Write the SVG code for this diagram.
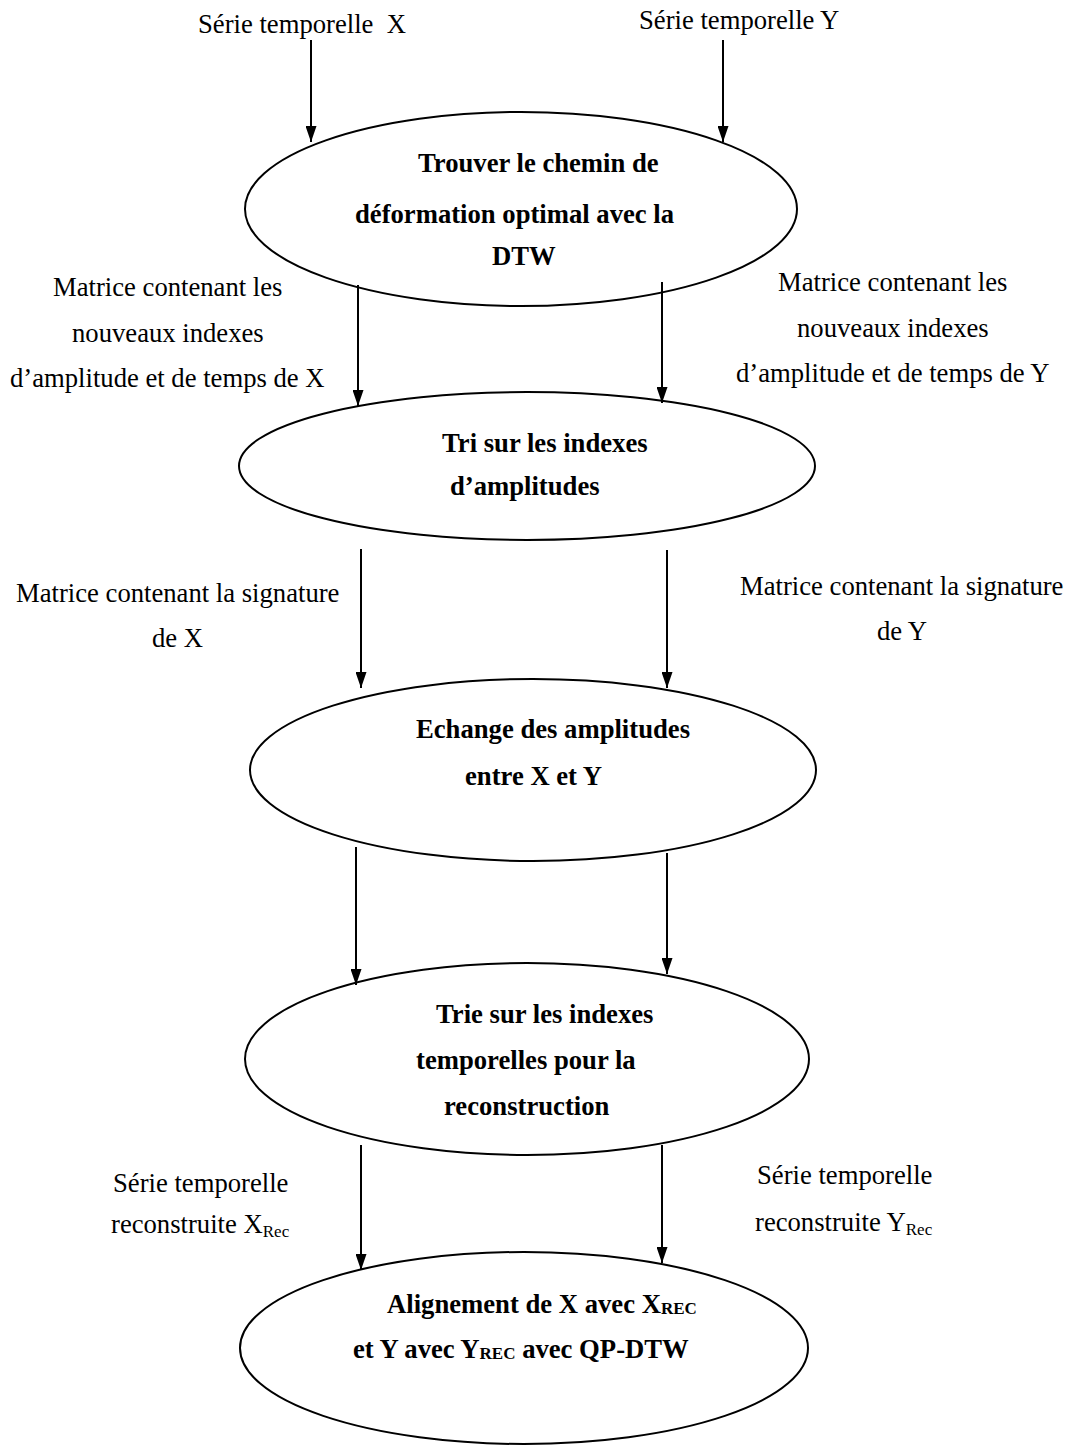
<svg xmlns="http://www.w3.org/2000/svg" width="1069" height="1445" viewBox="0 0 1069 1445">
<style>
.n{fill:#fff;stroke:#000;stroke-width:2}
.l{font-family:"Liberation Serif","Times New Roman",serif;font-size:26.67px;fill:#000}
.b{font-family:"Liberation Serif","Times New Roman",serif;font-size:26.67px;font-weight:bold;fill:#000}
.c line{stroke:#000;stroke-width:2}
</style>
<defs>
<marker id="ah" markerWidth="16" markerHeight="11" refX="16" refY="5.5" orient="auto" markerUnits="userSpaceOnUse" viewBox="0 0 16 11">
<path d="M0,0 L16,5.5 L0,11 Z" fill="#000"/>
</marker>
</defs>
<rect width="1069" height="1445" fill="#fff"/>
<g id="n1"><ellipse class="n" cx="521" cy="209" rx="276" ry="97"/>
<text class="b" x="418" y="172">Trouver le chemin de</text>
<text class="b" x="355" y="223">déformation optimal avec la</text>
<text class="b" x="492" y="265">DTW</text></g>
<g id="n2"><ellipse class="n" cx="527" cy="466" rx="288" ry="74"/>
<text class="b" x="442" y="452">Tri sur les indexes</text>
<text class="b" x="450" y="495">d’amplitudes</text></g>
<g id="n3"><ellipse class="n" cx="533" cy="770" rx="283" ry="91"/>
<text class="b" x="416" y="738">Echange des amplitudes</text>
<text class="b" x="465" y="785">entre X et Y</text></g>
<g id="n4"><ellipse class="n" cx="527" cy="1059" rx="282" ry="96"/>
<text class="b" x="436" y="1023">Trie sur les indexes</text>
<text class="b" x="416" y="1069">temporelles pour la</text>
<text class="b" x="444" y="1115">reconstruction</text></g>
<g id="n5"><ellipse class="n" cx="524" cy="1348" rx="284" ry="96"/>
<text class="b" x="387" y="1313">Alignement de X avec X<tspan font-size="17" dy="1">REC</tspan></text>
<text class="b" x="353" y="1358">et Y avec Y<tspan font-size="17" dy="1">REC</tspan><tspan dy="-1"> avec QP-DTW</tspan></text></g>
<g id="labels">
<text class="l" x="198" y="33" xml:space="preserve">Série temporelle  X</text>
<text class="l" x="639" y="29">Série temporelle Y</text>
<text class="l" x="53" y="296">Matrice contenant les</text>
<text class="l" x="72" y="342">nouveaux indexes</text>
<text class="l" x="10" y="387">d’amplitude et de temps de X</text>
<text class="l" x="778" y="291">Matrice contenant les</text>
<text class="l" x="797" y="337">nouveaux indexes</text>
<text class="l" x="736" y="382">d’amplitude et de temps de Y</text>
<text class="l" x="16" y="602">Matrice contenant la signature</text>
<text class="l" x="152" y="647">de X</text>
<text class="l" x="740" y="595">Matrice contenant la signature</text>
<text class="l" x="877" y="640">de Y</text>
<text class="l" x="113" y="1192">Série temporelle</text>
<text class="l" x="111" y="1233">reconstruite X<tspan font-size="17" dy="4">Rec</tspan></text>
<text class="l" x="757" y="1184">Série temporelle</text>
<text class="l" x="755" y="1231">reconstruite Y<tspan font-size="17" dy="4">Rec</tspan></text>
</g>
<g id="connectors" class="c">
<line x1="311" y1="40" x2="311" y2="142" marker-end="url(#ah)"/>
<line x1="723" y1="40" x2="723" y2="142" marker-end="url(#ah)"/>
<line x1="358" y1="285" x2="358" y2="406" marker-end="url(#ah)"/>
<line x1="662" y1="282" x2="662" y2="403" marker-end="url(#ah)"/>
<line x1="361" y1="549" x2="361" y2="688" marker-end="url(#ah)"/>
<line x1="667" y1="550" x2="667" y2="688" marker-end="url(#ah)"/>
<line x1="356" y1="847" x2="356" y2="985" marker-end="url(#ah)"/>
<line x1="667" y1="853" x2="667" y2="974" marker-end="url(#ah)"/>
<line x1="361" y1="1145" x2="361" y2="1270" marker-end="url(#ah)"/>
<line x1="662" y1="1145" x2="662" y2="1263" marker-end="url(#ah)"/>
</g>
</svg>
